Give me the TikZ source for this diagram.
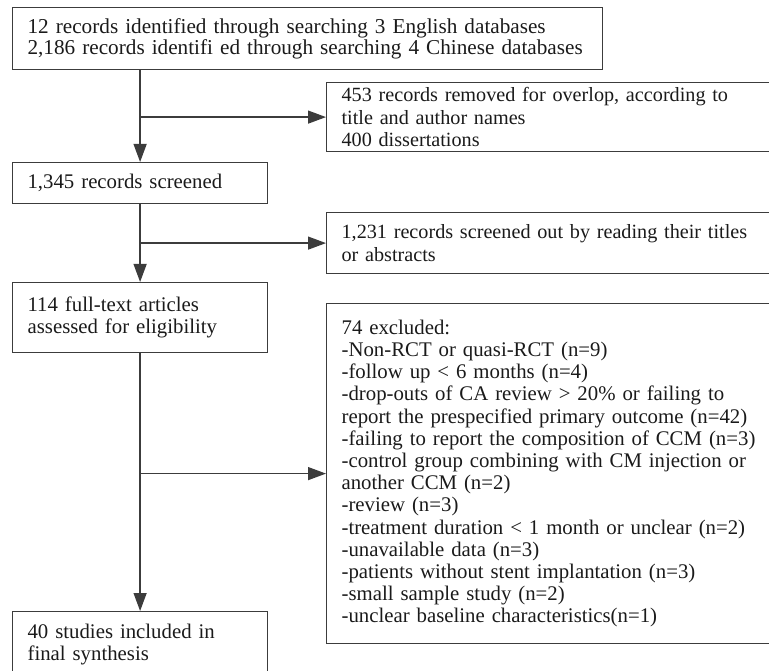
\documentclass[tikz,border=0pt]{standalone}
\usepackage{fontspec}
\setmainfont{Liberation Serif}
\usetikzlibrary{arrows.meta}
\definecolor{linec}{HTML}{3C3C3C}
\definecolor{textc}{HTML}{1A1A1A}
\begin{document}
\begin{tikzpicture}[x=1pt,y=-1pt,
  box/.style={draw=linec, line width=1.2pt, text=textc, anchor=north west,
    inner xsep=15pt, inner ysep=0pt, align=left,
    font=\fontsize{20.8}{22.2}\selectfont},
  arr/.style={draw=linec, line width=1.3pt, -{Triangle[length=18pt,width=13pt]}}]
\useasboundingbox (0,0) rectangle (769,671);
\node[box, minimum width=590pt, minimum height=62pt, text width=560pt,
  font=\fontsize{21.2}{17.8}\selectfont] (b1) at (12,7)
  {\mbox{12 records identified through searching 3 English databases}\\
   \mbox{2,186 records identifi ed through searching 4 Chinese databases}};
\node[box, minimum width=450pt, minimum height=69pt, text width=420pt,
  font=\fontsize{20.2}{22.4}\selectfont] (b2) at (326,82)
  {453 records removed for overlop, according to\\
   title and author names\\
   400 dissertations};
\node[box, minimum width=255pt, minimum height=41pt, text width=225pt] (b3) at (12,162)
  {1,345 records screened};
\node[box, minimum width=450pt, minimum height=61pt, text width=420pt,
  font=\fontsize{20.2}{22.2}\selectfont] (b4) at (326,212)
  {1,231 records screened out by reading their titles\\
   or abstracts};
\node[box, minimum width=255pt, minimum height=70pt, text width=225pt] (b5) at (12,282)
  {114 full-text articles\\
   assessed for eligibility};
\node[box, minimum width=450pt, minimum height=340pt, text width=420pt] (b6) at (326,303)
  {74 excluded:\\
   -Non-RCT or quasi-RCT (n=9)\\
   -follow up < 6 months (n=4)\\
   -drop-outs of CA review > 20\% or failing to\\
   report the prespecified primary outcome (n=42)\\
   -failing to report the composition of CCM (n=3)\\
   -control group combining with CM injection or\\
   another CCM (n=2)\\
   -review (n=3)\\
   -treatment duration < 1 month or unclear (n=2)\\
   -unavailable data (n=3)\\
   -patients without stent implantation (n=3)\\
   -small sample study (n=2)\\
   -unclear baseline characteristics(n=1)};
\node[box, minimum width=255pt, minimum height=66pt, text width=225pt] (b7) at (12,611)
  {40 studies included in\\
   final synthesis};
\draw[arr] (b1.south -| b3.north) -- (b3.north);
\draw[arr] (b2.west -| b3.north) -- (b2.west);
\draw[arr] (b3.south) -- (b5.north);
\draw[arr] (b4.west -| b3.south) -- (b4.west);
\draw[arr] (b5.south) -- (b7.north);
\draw[arr] (b6.west -| b5.south) -- (b6.west);
\end{tikzpicture}
\end{document}
